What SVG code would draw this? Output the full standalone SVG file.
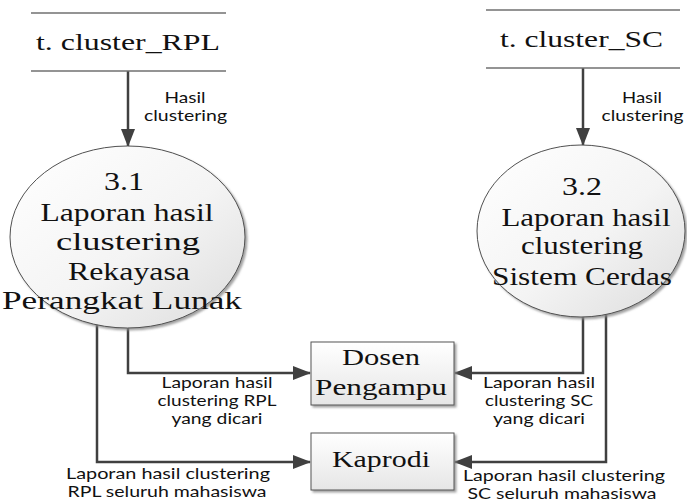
<svg xmlns="http://www.w3.org/2000/svg" width="687" height="504" viewBox="0 0 687 504">
  <defs>
    <linearGradient id="procFill" x1="0" y1="0" x2="1" y2="1">
      <stop offset="0" stop-color="#ffffff"/>
      <stop offset="0.55" stop-color="#f4f4f4"/>
      <stop offset="1" stop-color="#dcdcdc"/>
    </linearGradient>
    <linearGradient id="boxFill" x1="0" y1="0" x2="0" y2="1">
      <stop offset="0" stop-color="#ffffff"/>
      <stop offset="1" stop-color="#e6e6e6"/>
    </linearGradient>
    <filter id="shadow" x="-10%" y="-10%" width="125%" height="125%">
      <feDropShadow dx="2" dy="2" stdDeviation="1" flood-color="#8a8a8a" flood-opacity="0.8"/>
    </filter>
    <marker id="arrow" markerUnits="userSpaceOnUse" markerWidth="18" markerHeight="14" refX="17" refY="7" orient="auto">
      <path d="M0,0 L18,7 L0,14 Z" fill="#404040"/>
    </marker>
  </defs>
  <style>
    .store { stroke: #707070; stroke-width: 1.5; fill: none; }
    .flow { stroke: #404040; stroke-width: 2.5; fill: none; marker-end: url(#arrow); }
    .proc { fill: url(#procFill); stroke: #505050; stroke-width: 1; filter: url(#shadow); }
    .ent { fill: url(#boxFill); stroke: #555555; stroke-width: 1; filter: url(#shadow); }
    .serif { font-family: "Liberation Serif", "Times New Roman", serif; fill: #111111; text-anchor: middle; }
    .big { font-size: 26px; }
    .mid { font-size: 24px; }
    .lbl { font-family: Lato, "Open Sans", sans-serif; font-size: 15px; fill: #111111; text-anchor: middle; }
  </style>

  <!-- data flows -->
  <g id="connectors">
    <path class="flow" d="M128,71 L128,146"/>
    <path class="flow" d="M583,68 L583,145"/>
    <path class="flow" d="M128,300 L128,373 L310,373"/>
    <path class="flow" d="M97,300 L97,462 L310,462"/>
    <path class="flow" d="M583,300 L583,373 L455,373"/>
    <path class="flow" d="M606,300 L606,462 L455,462"/>
    <text class="lbl" x="185" y="103" textLength="41" lengthAdjust="spacingAndGlyphs">Hasil</text>
    <text class="lbl" x="185.5" y="121" textLength="83" lengthAdjust="spacingAndGlyphs">clustering</text>
    <text class="lbl" x="642" y="103" textLength="40" lengthAdjust="spacingAndGlyphs">Hasil</text>
    <text class="lbl" x="642.5" y="121" textLength="82" lengthAdjust="spacingAndGlyphs">clustering</text>
    <text class="lbl" x="217" y="388" textLength="111" lengthAdjust="spacingAndGlyphs">Laporan hasil</text>
    <text class="lbl" x="217" y="406" textLength="119" lengthAdjust="spacingAndGlyphs">clustering RPL</text>
    <text class="lbl" x="217" y="424" textLength="91" lengthAdjust="spacingAndGlyphs">yang dicari</text>
    <text class="lbl" x="168" y="479" textLength="204" lengthAdjust="spacingAndGlyphs">Laporan hasil clustering</text>
    <text class="lbl" x="167" y="497" textLength="199" lengthAdjust="spacingAndGlyphs">RPL seluruh mahasiswa</text>
    <text class="lbl" x="539" y="388" textLength="112" lengthAdjust="spacingAndGlyphs">Laporan hasil</text>
    <text class="lbl" x="539" y="406" textLength="108" lengthAdjust="spacingAndGlyphs">clustering SC</text>
    <text class="lbl" x="539" y="424" textLength="92" lengthAdjust="spacingAndGlyphs">yang dicari</text>
    <text class="lbl" x="564" y="481" textLength="202" lengthAdjust="spacingAndGlyphs">Laporan hasil clustering</text>
    <text class="lbl" x="562" y="499" textLength="189" lengthAdjust="spacingAndGlyphs">SC seluruh mahasiswa</text>
  </g>

  <!-- data store: t. cluster_RPL -->
  <g id="store-rpl">
    <line class="store" x1="31" y1="13" x2="226" y2="13"/>
    <line class="store" x1="31" y1="71" x2="226" y2="71"/>
    <text class="serif mid" x="128" y="50" textLength="184" lengthAdjust="spacingAndGlyphs">t. cluster_RPL</text>
  </g>

  <!-- data store: t. cluster_SC -->
  <g id="store-sc">
    <line class="store" x1="486" y1="10" x2="680" y2="10"/>
    <line class="store" x1="486" y1="68" x2="680" y2="68"/>
    <text class="serif mid" x="581.5" y="47" textLength="163" lengthAdjust="spacingAndGlyphs">t. cluster_SC</text>
  </g>

  <!-- process 3.1 -->
  <g id="proc-3-1">
    <ellipse class="proc" cx="127.5" cy="237" rx="117.5" ry="91"/>
    <text class="serif big" x="124" y="190" textLength="40" lengthAdjust="spacingAndGlyphs">3.1</text>
    <text class="serif big" x="127" y="221" textLength="173" lengthAdjust="spacingAndGlyphs">Laporan hasil</text>
    <text class="serif big" x="128" y="250" textLength="144" lengthAdjust="spacingAndGlyphs">clustering</text>
    <text class="serif big" x="129" y="280" textLength="122" lengthAdjust="spacingAndGlyphs">Rekayasa</text>
    <text class="serif big" x="122" y="309" textLength="240" lengthAdjust="spacingAndGlyphs">Perangkat Lunak</text>
  </g>

  <!-- process 3.2 -->
  <g id="proc-3-2">
    <ellipse class="proc" cx="581" cy="231" rx="104" ry="86"/>
    <text class="serif big" x="582" y="195" textLength="40" lengthAdjust="spacingAndGlyphs">3.2</text>
    <text class="serif big" x="586" y="226" textLength="169" lengthAdjust="spacingAndGlyphs">Laporan hasil</text>
    <text class="serif big" x="582" y="254" textLength="122" lengthAdjust="spacingAndGlyphs">clustering</text>
    <text class="serif big" x="582" y="285" textLength="180" lengthAdjust="spacingAndGlyphs">Sistem Cerdas</text>
  </g>

  <!-- external entity: Dosen Pengampu -->
  <g id="ent-dosen">
    <rect class="ent" x="311" y="342" width="143" height="63"/>
    <text class="serif mid" x="381" y="365" textLength="78" lengthAdjust="spacingAndGlyphs">Dosen</text>
    <text class="serif mid" x="381" y="395" textLength="132" lengthAdjust="spacingAndGlyphs">Pengampu</text>
  </g>

  <!-- external entity: Kaprodi -->
  <g id="ent-kaprodi">
    <rect class="ent" x="311" y="433" width="143" height="57"/>
    <text class="serif mid" x="381" y="467" textLength="98" lengthAdjust="spacingAndGlyphs">Kaprodi</text>
  </g>
</svg>
